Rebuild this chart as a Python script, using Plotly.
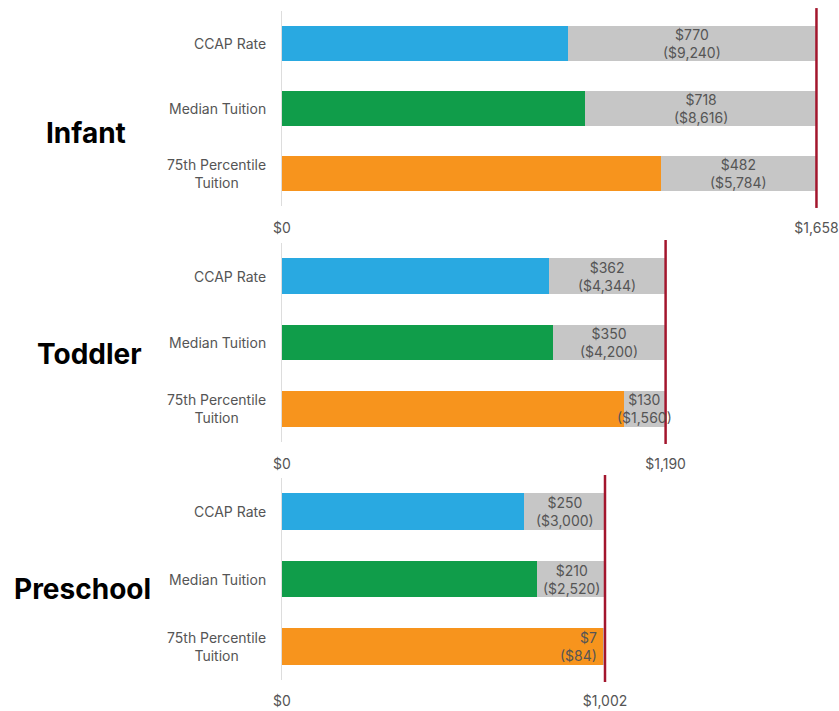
import plotly.graph_objects as go

# Monthly gap between each price and the reference cost, per age group
groups = ["Infant", "Toddler", "Preschool"]
categories = ["CCAP Rate", "Median Tuition", "75th Percentile<br>Tuition"]
thresholds = [1658, 1190, 1002]
gap_monthly = [
    [770, 718, 482],
    [362, 350, 130],
    [250, 210, 7],
]
gap_annual = [
    [9240, 8616, 5784],
    [4344, 4200, 1560],
    [3000, 2520, 84],
]

bar_colors = ["#29A9E1", "#109D4A", "#F7941D"]
gap_color = "#C6C6C6"
line_color = "#A3162D"
text_color = "#555555"
FONT = "Inter, Roboto, sans-serif"

W, H = 839, 711
# vertical placement of each panel (pixel rows of the plot area)
panel_px = [(11, 206), (243, 442), (478, 680)]
# vertical position of each group heading, as a fraction of its panel
heading_y = [0.375, 0.44, 0.45]
heading_x = [86, 89, 82]
x_max = 1700

fig = go.Figure()

for i, g in enumerate(groups):
    n = "" if i == 0 else str(i + 1)
    xa, ya = "x" + n, "y" + n
    thr = thresholds[i]
    base_vals = [thr - v for v in gap_monthly[i]]

    fig.add_trace(go.Bar(
        y=categories, x=base_vals, orientation="h",
        marker=dict(color=bar_colors, line_width=0),
        width=0.54, xaxis=xa, yaxis=ya, hoverinfo="skip", showlegend=False,
    ))
    fig.add_trace(go.Bar(
        y=categories, x=gap_monthly[i], base=base_vals, orientation="h",
        marker=dict(color=gap_color, line_width=0),
        width=0.54, xaxis=xa, yaxis=ya, hoverinfo="skip", showlegend=False,
    ))

    # gap labels: centred in the grey segment, or tucked inside the coloured bar when the gap is tiny
    for c, gm, ga, b in zip(categories, gap_monthly[i], gap_annual[i], base_vals):
        txt = f"${gm:,}<br>(${ga:,})"
        if gm < 50:
            fig.add_annotation(x=thr, y=c, xref=xa, yref=ya, text=txt, showarrow=False,
                               xanchor="right", xshift=-6, align="right",
                               font=dict(family=FONT, size=14, color=text_color))
        else:
            fig.add_annotation(x=b + gm / 2, y=c, xref=xa, yref=ya, text=txt, showarrow=False,
                               xanchor="center", align="center",
                               font=dict(family=FONT, size=14, color=text_color))

    # category labels to the left of the axis
    for c in categories:
        fig.add_annotation(x=0, y=c, xref=xa, yref=ya, text=c, showarrow=False,
                           xanchor="right", xshift=-14, align="center",
                           font=dict(family=FONT, size=14, color=text_color))

    # reference cost line
    fig.add_shape(type="line", xref=xa, yref=ya + " domain", x0=thr, x1=thr, y0=-0.01, y1=1.015,
                  line=dict(color=line_color, width=2.5))

    top, bot = panel_px[i]
    dom = [1 - bot / H, 1 - top / H]
    fig.add_annotation(xref="paper", yref=ya + " domain", x=(heading_x[i] - 282) / (W - 282 - 9),
                       y=heading_y[i], text=f"<b>{g}</b>", showarrow=False,
                       xanchor="center", yanchor="middle",
                       font=dict(family=FONT, size=28, color="#000000", weight=900))

    fig.layout["xaxis" + n] = dict(
        domain=[0, 1], range=[0, x_max], anchor=ya, showgrid=False, zeroline=False,
        tickvals=[0, thr], ticktext=["$0", f"${thr:,}"], ticks="",
        ticklabelstandoff=12 if i < 2 else 11,
        tickfont=dict(family=FONT, size=14, color=text_color),
        automargin=False, fixedrange=True,
    )
    fig.layout["yaxis" + n] = dict(
        domain=dom, range=[2.5, -0.5], anchor=xa, type="category",
        showgrid=False, zeroline=False, showticklabels=False, ticks="",
        showline=True, linecolor="#DDDDDD", linewidth=1, automargin=False, fixedrange=True,
    )

fig.update_layout(
    width=W, height=H, template="none",
    margin=dict(l=282, r=9, t=0, b=0),
    paper_bgcolor="white", plot_bgcolor="white",
    barmode="overlay", bargap=0,
    font=dict(family=FONT),
)

fig.write_html("out.html")
